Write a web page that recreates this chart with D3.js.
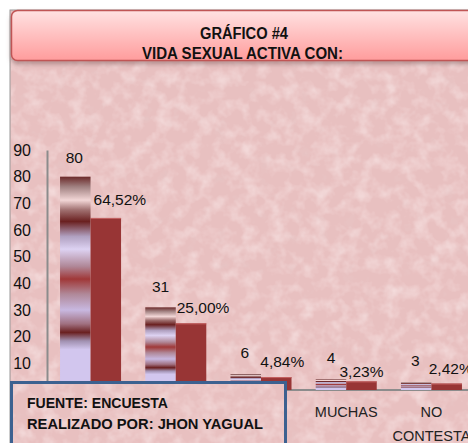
<!DOCTYPE html>
<html><head><meta charset="utf-8">
<script src="https://cdn.jsdelivr.net/npm/d3@7"></script>
<style>body{margin:0;background:#fff}svg{display:block}</style>
</head><body>
<svg id="c" width="468" height="443"></svg>
<script>
const categories = ["UNA", "DOS", "TRES", "MUCHAS", "NO CONTESTA"];
const seriesCount = [80, 31, 6, 4, 3];
const seriesPct = [64.52, 25.00, 4.84, 3.23, 2.42];
const pctLabels = ["64,52%", "25,00%", "4,84%", "3,23%", "2,42%"];
const yTicks = [0, 10, 20, 30, 40, 50, 60, 70, 80, 90];
const titleLines = ["GRÁFICO #4", "VIDA SEXUAL ACTIVA CON:"];
const footerLines = ["FUENTE: ENCUESTA", "REALIZADO POR:  JHON YAGUAL"];

// layout nudges for data labels (Excel auto-placement): [dx1, dy1, dx2, dy2]
const labelNudge = [[-1,-14,14,-13],[0,-15,12,-10],[-1,-16,6,-10],[0,-16,0,-4],[-1,-16,4,-10]];

const FONT = "Liberation Sans, Arial, sans-serif";
const BG = "#e8c0c0";
const footerBox = {x: 11.5, y: 382.5, w: 274, h: 70};

const svg = d3.select("#c");
const defs = svg.append("defs");

// subtle paper texture: light and dark speckles over pink
const tex = defs.append("filter").attr("id","tex").attr("x",0).attr("y",0).attr("width","100%").attr("height","100%");
tex.append("feTurbulence").attr("type","fractalNoise").attr("baseFrequency","0.07").attr("numOctaves",3).attr("seed",7).attr("result","n");
tex.append("feColorMatrix").attr("in","n").attr("type","matrix")
  .attr("values","0 0 0 0 1  0 0 0 0 0.88  0 0 0 0 0.88  1.0 0 0 0 -0.42").attr("result","light");
tex.append("feColorMatrix").attr("in","n").attr("type","matrix")
  .attr("values","0 0 0 0 0.78  0 0 0 0 0.6  0 0 0 0 0.6  0 -1.0 0 0 0.4").attr("result","dark");
tex.append("feMerge").call(m => { m.append("feMergeNode").attr("in","SourceGraphic"); m.append("feMergeNode").attr("in","dark"); m.append("feMergeNode").attr("in","light"); })
  .attr("result","all");
tex.append("feComposite").attr("in","all").attr("in2","SourceGraphic").attr("operator","in");

const tg = defs.append("linearGradient").attr("id","titleGrad").attr("x1",0).attr("y1",0).attr("x2",0).attr("y2",1);
tg.append("stop").attr("offset","0").attr("stop-color","#ffe2e2");
tg.append("stop").attr("offset","1").attr("stop-color","#ff9c9c");

const sh = defs.append("filter").attr("id","shadow").attr("x","-5%").attr("y","-20%").attr("width","110%").attr("height","160%");
sh.append("feDropShadow").attr("dx",0).attr("dy",3).attr("stdDeviation",2).attr("flood-color","#806060").attr("flood-opacity",0.5);

const barStops = [
  [0,"#6b2a2a"],[0.047,"#a08080"],[0.11,"#f2d6d6"],[0.156,"#a07070"],[0.21,"#6a2020"],
  [0.28,"#b0a0c0"],[0.34,"#ddd2f2"],[0.42,"#b08898"],[0.48,"#a03838"],[0.55,"#b08898"],
  [0.625,"#c8b8e0"],[0.69,"#a07080"],[0.73,"#6a2020"],[0.77,"#a090b0"],[0.81,"#d2c6ee"],[1,"#d2c6ee"]];
const bg = defs.append("linearGradient").attr("id","barGrad").attr("x1",0).attr("y1",0).attr("x2",0).attr("y2",1);
barStops.forEach(s => bg.append("stop").attr("offset", s[0]).attr("stop-color", s[1]));

// chart area background
svg.append("rect").attr("x",10).attr("y",10).attr("width",470).attr("height",440).attr("fill",BG).attr("stroke","#9a9a9a").attr("stroke-width",1);
svg.append("rect").attr("x",11).attr("y",60).attr("width",460).attr("height",390).attr("fill",BG).attr("filter","url(#tex)");

// title box
svg.append("rect").attr("x",11.5).attr("y",10.5).attr("width",470).attr("height",50).attr("rx",6)
  .attr("fill","url(#titleGrad)").attr("stroke","#c05454").attr("stroke-width",1.5).attr("filter","url(#shadow)");
svg.append("text").attr("x",244).attr("y",39).attr("text-anchor","middle")
  .attr("font-family",FONT).attr("font-weight","bold").attr("font-size",16)
  .attr("textLength",88).attr("lengthAdjust","spacingAndGlyphs").attr("fill","#111").text(titleLines[0]);
svg.append("text").attr("x",242.5).attr("y",58.5).attr("text-anchor","middle")
  .attr("font-family",FONT).attr("font-weight","bold").attr("font-size",16)
  .attr("textLength",201).attr("lengthAdjust","spacingAndGlyphs").attr("fill","#111").text(titleLines[1]);

// scales
const y = d3.scaleLinear().domain([0, 90]).range([390, 150]);
const x0 = d3.scaleBand().domain(categories).range([47, 475]).paddingInner(0.284).paddingOuter(0.153);
const x1 = d3.scaleBand().domain([0, 1]).range([0, x0.bandwidth()]);

// axes
const yAxis = svg.append("g").attr("transform","translate(47,0)")
  .call(d3.axisLeft(y).tickValues(yTicks).tickSize(0).tickPadding(16).tickFormat(d3.format("d")));
yAxis.select(".domain").attr("stroke","#8c8c8c").attr("stroke-width",2);
yAxis.selectAll("text").attr("font-family",FONT).attr("font-size",16).attr("fill","#111")
  .attr("visibility", d => y(d) > footerBox.y - 4 ? "hidden" : null);

const xAxis = svg.append("g").attr("transform","translate(0,390)")
  .call(d3.axisBottom(x0).tickSize(0).tickFormat(""));
xAxis.select(".domain").attr("stroke","#8c8c8c").attr("stroke-width",2).attr("d","M47,0H470");

categories.forEach(c => {
  const cx = x0(c) + x0.bandwidth()/2;
  if (cx < footerBox.x + footerBox.w) return; // hidden behind the source box in the original
  const t = svg.append("text").attr("x", cx).attr("y", 417).attr("text-anchor","middle")
    .attr("font-family",FONT).attr("font-size",14.5).attr("fill","#222");
  const words = c.split(" ");
  const lines = words.length > 1 && c.length > 8 ? words : [c];
  lines.forEach((w, i) => t.append("tspan").attr("x", cx).attr("dy", i ? 24 : 0).text(w));
});

// bars
const g = svg.append("g");
categories.forEach((c, i) => {
  const bx = x0(c);
  g.append("rect").attr("x", bx + x1(0)).attr("y", y(seriesCount[i])).attr("width", x1.bandwidth())
    .attr("height", y(0) - y(seriesCount[i])).attr("fill","url(#barGrad)");
  g.append("rect").attr("x", bx + x1(1)).attr("y", y(seriesPct[i])).attr("width", x1.bandwidth())
    .attr("height", y(0) - y(seriesPct[i])).attr("fill","#983535");
  g.append("line").attr("x1", bx + x1(1)).attr("x2", bx + x1(1) + x1.bandwidth())
    .attr("y1", y(seriesPct[i]) + 0.5).attr("y2", y(seriesPct[i]) + 0.5).attr("stroke","#c46262").attr("stroke-width",1);
  const n = labelNudge[i];
  g.append("text").attr("x", bx + x1(0) + x1.bandwidth()/2 + n[0]).attr("y", y(seriesCount[i]) + n[1])
    .attr("text-anchor","middle").attr("font-family",FONT).attr("font-size",15.5)
    .attr("fill","#111").text(seriesCount[i]);
  g.append("text").attr("x", bx + x1(1) + x1.bandwidth()/2 + n[2]).attr("y", y(seriesPct[i]) + n[3])
    .attr("text-anchor","middle").attr("font-family",FONT).attr("font-size",15.5)
    .attr("fill","#111").text(pctLabels[i]);
});

// footer (source) box
svg.append("rect").attr("x",footerBox.x).attr("y",footerBox.y).attr("width",footerBox.w).attr("height",footerBox.h)
  .attr("fill",BG).attr("stroke","#3c6190").attr("stroke-width",3);
svg.append("rect").attr("x",footerBox.x + 1.5).attr("y",footerBox.y + 1.5).attr("width",footerBox.w - 3).attr("height",footerBox.h)
  .attr("fill",BG).attr("filter","url(#tex)");
svg.append("text").attr("x",27).attr("y",407.5)
  .attr("font-family",FONT).attr("font-weight","bold").attr("font-size",15.5)
  .attr("textLength",141).attr("lengthAdjust","spacingAndGlyphs").attr("fill","#111").text(footerLines[0]);
svg.append("text").attr("x",27).attr("y",429)
  .attr("font-family",FONT).attr("font-weight","bold").attr("font-size",15.5)
  .attr("textLength",236).attr("lengthAdjust","spacingAndGlyphs").attr("fill","#111").text(footerLines[1]);
</script>
</body></html>
